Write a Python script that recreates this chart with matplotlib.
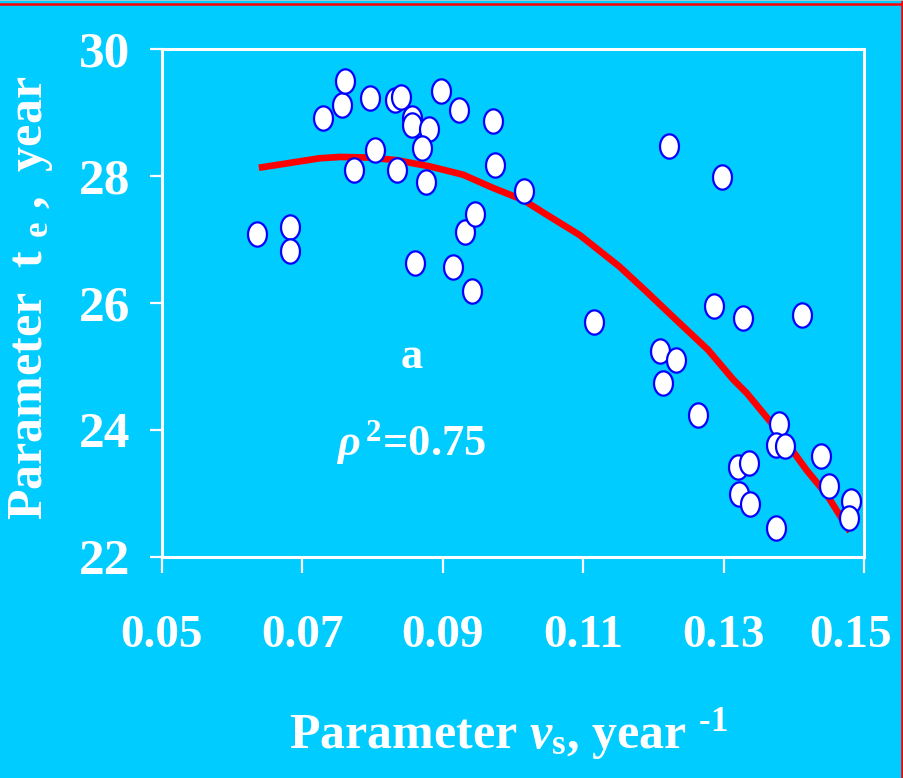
'''
Parameter t_e against parameter v_s, with the fitted trend curve (panel a).
'''

import numpy as np
import matplotlib as mpl
mpl.use('Agg')
import matplotlib.pyplot as plt
from matplotlib.path import Path
from matplotlib.lines import Line2D
from matplotlib.transforms import ScaledTranslation

BG = '#00CCFF'
FONT = 'Liberation Serif'

plt.rcParams['font.family'] = [FONT, 'DejaVu Serif']
plt.rcParams['font.weight'] = 'bold'
plt.rcParams['mathtext.fontset'] = 'custom'
plt.rcParams['mathtext.rm'] = FONT + ':bold'
plt.rcParams['mathtext.bf'] = FONT + ':bold'
plt.rcParams['mathtext.it'] = FONT + ':italic'
plt.rcParams['mathtext.bfit'] = FONT + ':italic:bold'

# measured points (v_s, t_e)
vs = [0.0636, 0.0683, 0.0682, 0.0729, 0.0757, 0.0760, 0.0773, 0.0796, 0.0804,
      0.0832, 0.0841, 0.0835, 0.0856, 0.0856, 0.0881, 0.0871, 0.0876, 0.0860,
      0.0897, 0.0923, 0.0915, 0.0931, 0.0946, 0.0941, 0.0972, 0.0974, 0.1015,
      0.1116, 0.1222, 0.1297, 0.1286, 0.1328, 0.1411, 0.1209, 0.1232, 0.1214,
      0.1264, 0.1379, 0.1375, 0.1388, 0.1439, 0.1320, 0.1336, 0.1450, 0.1481,
      0.1479, 0.1322, 0.1337, 0.1374]
te = [27.09, 27.20, 26.82, 28.92, 29.12, 29.50, 28.09, 29.23, 28.41,
      29.19, 29.24, 28.09, 28.92, 28.80, 28.74, 28.44, 27.91, 26.63,
      29.34, 29.04, 26.56, 27.12, 27.40, 26.19, 28.86, 28.17, 27.77,
      25.70, 28.48, 27.99, 25.96, 25.77, 25.81, 25.24, 25.10, 24.74,
      24.23, 24.09, 23.77, 23.74, 23.59, 23.41, 23.48, 23.11, 22.88,
      22.61, 22.99, 22.83, 22.46]

# trend curve
fit_x = [0.0638, 0.0725, 0.0754, 0.0796, 0.0834, 0.0882, 0.0929, 0.0972,
         0.1015, 0.1048, 0.1095, 0.1152, 0.1190, 0.1228, 0.1278, 0.1314,
         0.1333, 0.1380, 0.1418, 0.1447, 0.1480]
fit_y = [28.13, 28.28, 28.30, 28.29, 28.25, 28.15, 28.02, 27.81,
         27.62, 27.39, 27.07, 26.57, 26.18, 25.78, 25.26, 24.79,
         24.58, 23.95, 23.37, 22.98, 22.40]

xticks = [0.05, 0.07, 0.09, 0.11, 0.13, 0.15]
yticks = [22, 24, 26, 28, 30]

# tall ellipse marker
t = np.linspace(0, 2 * np.pi, 60)
ellipse = Path(np.column_stack([0.39 * np.cos(t), 0.5 * np.sin(t)]), closed=True)

fig = plt.figure(figsize=(9.04, 7.78), dpi=100, facecolor=BG)
ax = fig.add_axes([0.1792, 0.2841, 0.7766, 0.6529], facecolor=BG)

ax.plot(fit_x, fit_y, color='#FF0000', linewidth=4.8, zorder=3, solid_capstyle='butt')
ax.plot(vs, te, linestyle='none', marker=ellipse, markersize=17.5,
        markerfacecolor='white', markeredgecolor='#0000FF', markeredgewidth=1.6, zorder=4)

ax.set_xlim(0.05, 0.15)
ax.set_ylim(22, 30)
ax.set_xticks(xticks)
ax.set_xticklabels(['%.2f' % v for v in xticks])
ax.set_yticks(yticks)

for s in ax.spines.values():
    s.set_color('white')
    s.set_linewidth(2.2)

ax.tick_params(axis='x', direction='out', length=11.5, width=1.6, color='white',
               labelcolor='white', labelsize=34, pad=30)
ax.tick_params(axis='y', direction='out', length=8.6, width=1.6, color='white',
               labelcolor='white', labelsize=37, pad=14)

# keep the last x label inside the figure
last = ax.get_xticklabels()[-1]
last.set_transform(last.get_transform() + ScaledTranslation(-10 / 72, 0, fig.dpi_scale_trans))

xlab = 'Parameter $\\mathbfit{v}_{\\rm s}$, year $^{\\rm \u20101}$'
fig.text(0.562, 0.038, xlab, color='white', fontsize=36, fontweight='bold',
         ha='center', va='baseline')
fig.text(0.034, 0.617, r'Parameter  t $_{\rm e}$ ,  year', color='white', fontsize=36,
         fontweight='bold', rotation=90, ha='center', va='center')

ax.text(0.355, 0.394, 'a', transform=ax.transAxes, color='white', fontsize=32,
        ha='center', va='center')
ax.text(0.355, 0.225, r'$\rho^{\,2}$=0.75', transform=ax.transAxes, color='white',
        fontsize=32, ha='center', va='center')

# thin red frame along the top and right edges
fig.add_artist(Line2D([0, 1], [0.9955, 0.9955], transform=fig.transFigure, color='#FF0000', linewidth=1.8))
fig.add_artist(Line2D([0.9975, 0.9975], [0, 1], transform=fig.transFigure, color='#FF0000', linewidth=1.8))
fig.add_artist(Line2D([0, 1], [0.9995, 0.9995], transform=fig.transFigure, color='#C8C8C8', linewidth=1.2))

fig.savefig('out.png', dpi=100, facecolor=BG)
